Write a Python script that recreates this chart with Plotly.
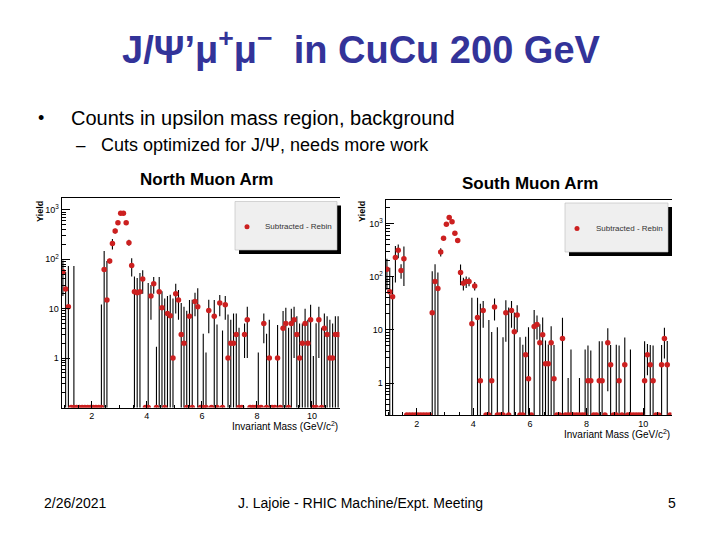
import plotly.graph_objects as go

# ---------------- data ----------------
mass_bins = [0.95, 1.05, 1.15, 1.25, 1.35, 1.45, 1.55, 1.65, 1.75, 1.85,
             1.95, 2.05, 2.15, 2.25, 2.35, 2.45, 2.55, 2.65, 2.75, 2.85,
             2.95, 3.05, 3.15, 3.25, 3.35, 3.45, 3.55, 3.65, 3.75, 3.85,
             3.95, 4.05, 4.15, 4.25, 4.35, 4.45, 4.55, 4.65, 4.75, 4.85,
             4.95, 5.05, 5.15, 5.25, 5.35, 5.45, 5.55, 5.65, 5.75, 5.85,
             5.95, 6.05, 6.15, 6.25, 6.35, 6.45, 6.55, 6.65, 6.75, 6.85,
             6.95, 7.05, 7.15, 7.25, 7.35, 7.45, 7.55, 7.65, 7.75, 7.85,
             7.95, 8.05, 8.15, 8.25, 8.35, 8.45, 8.55, 8.65, 8.75, 8.85,
             8.95, 9.05, 9.15, 9.25, 9.35, 9.45, 9.55, 9.65, 9.75, 9.85,
             9.95, 10.05, 10.15, 10.25, 10.35, 10.45, 10.55, 10.65, 10.75, 10.85,
             10.95]

north_yield = [56, 25, 11, 0, 0, 0, 0, 0, 0, 0,
               0, 0, 0, 0, 0, 62, 15, 92, 208, 373,
               550, 855, 855, 550, 217, 75, 22, 21, 22, 40,
               0, 0, 18, 32, 0, 22, 10.4, 0, 8, 7.2,
               1, 20, 15, 3, 2, 0, 7, 0, 14, 11,
               0, 0, 0, 9.2, 0, 7, 0, 13, 0, 12,
               1, 2, 2, 3, 0, 0, 3, 6, 0, 0,
               0, 0, 0, 5, 0, 1, 0, 0, 1, 0,
               4, 5, 0, 5, 6, 3, 1, 2, 5, 2,
               6, 0, 0, 6, 0, 4, 3, 1, 1, 3,
               3]
north_err = [38, 30, 62, 0, 73, 0, 0, 0, 0, 0,
             0, 0, 0, 0, 12, 85, 77, 10, 50, 40,
             45, 60, 60, 45, 30, 30, 23, 21, 31, 20,
             0, 33, 12, 12, 1.6, 22, 12, 16, 10, 12,
             15, 12, 9, 10, 9, 9, 8, 15, 7, 15,
             0, 3, 1.2, 6, 0, 8, 4.7, 6, 3.5, 6,
             6.6, 4, 6, 5, 4, 0, 2, 5, 0, 0,
             0, 1.2, 0, 3, 3, 5, 0, 0, 3.7, 0,
             5, 5.5, 4, 5, 5, 4, 4, 3, 5, 4,
             6, 1, 5, 5, 4, 4, 4, 5, 4, 4,
             4]

south_yield = [137, 52, 42, 228, 312, 131, 217, 0, 0, 0,
               0, 0, 0, 0, 0, 0, 21, 81, 60, 290,
               525, 960, 1290, 1070, 650, 480, 119, 75, 81, 81,
               13, 67, 17, 1.1, 23, 0, 0, 1.1, 27, 0,
               0, 0, 21, 0, 23, 9.2, 19, 0, 0, 3.4,
               1.2, 0, 11.5, 12.6, 5.7, 8.1, 2.3, 2.3, 5.7, 1.2,
               0, 0, 6.9, 0, 0, 0, 0, 0, 0, 0,
               0, 1.1, 1.1, 0, 0, 1.1, 1.1, 0, 5.7, 2.2,
               0, 0, 1.1, 0, 2.2, 0, 0, 0, 0, 0,
               0, 1.1, 3.4, 2.2, 1.1, 0, 0, 2.2, 6.9, 2.2,
               0]
south_err = [80, 95, 60, 150, 90, 40, 150, 0, 0, 0,
             0, 0, 0, 0, 0, 0, 105, 90, 60, 50,
             50, 60, 70, 60, 50, 40, 50, 20, 20, 15,
             27, 12, 23, 30, 12, 0, 15, 8, 12, 11,
             0, 7, 15, 26, 12, 12, 10, 7, 5, 4,
             10, 0, 12, 6, 7, 9, 4, 3, 6, 4,
             0, 0, 10, 0, 1, 4, 0, 0, 1, 0,
             4, 4, 3, 0, 0, 5, 5, 0, 5, 3,
             0, 5, 4, 0, 5, 0, 4, 0, 0, 0,
             0, 5, 2, 3, 4, 0, 0, 3, 4, 4,
             0]

x_ticks = [2, 4, 6, 8, 10]
y_ticks = [1, 10, 100, 1000]
y_ticktext = ["1", "10", "10<sup>2</sup>", "10<sup>3</sup>"]
legend_label = "Subtracted - Rebin"

# ---------------- style / layout helpers ----------------
W, H = 720, 540
FONT = "Liberation Sans, Arial, sans-serif"
RED = "#cc2020"
BLUE = "#333399"


def px(x):
    return x / W


def py(y):
    return 1 - y / H


N_LOGMIN, N_LOGMAX = -1.0, 3.25
S_LOGMIN, S_LOGMAX = -0.6, 3.44


def at_floor(vals, floor):
    # ROOT draws empty bins on the bottom edge of a log axis
    return [v if v > 0 else floor for v in vals]


minor_vals = [m * 10 ** e for e in (-1, 0, 1, 2, 3) for m in range(2, 10)]

fig = go.Figure()

fig.add_trace(go.Scatter(
    x=mass_bins, y=at_floor(north_yield, 10 ** N_LOGMIN),
    mode="markers", marker=dict(color=RED, size=5.5, line=dict(width=0)),
    error_y=dict(type="data", array=north_err, color="black", thickness=1.1, width=0),
    xaxis="x", yaxis="y", showlegend=False, cliponaxis=True))

fig.add_trace(go.Scatter(
    x=mass_bins, y=at_floor(south_yield, 10 ** S_LOGMIN),
    mode="markers", marker=dict(color=RED, size=5.5, line=dict(width=0)),
    error_y=dict(type="data", array=south_err, color="black", thickness=1.1, width=0),
    xaxis="x2", yaxis="y2", showlegend=False, cliponaxis=True))


def xaxis_cfg(dom):
    return dict(domain=dom, range=[0.9, 11.0], showline=True, linecolor="black",
                linewidth=1, mirror=True, ticks="inside", ticklen=7, tickcolor="black",
                tickvals=x_ticks, showgrid=False, zeroline=False,
                minor=dict(ticks="inside", ticklen=3, dtick=0.5, tickcolor="black"),
                tickfont=dict(family=FONT, size=9, color="black"))


def yaxis_cfg(dom, rng, anchor):
    return dict(domain=dom, type="log", range=rng, showline=True, linecolor="black",
                linewidth=1, mirror=False, ticks="inside", ticklen=8, tickcolor="black",
                tickmode="array", tickvals=y_ticks, ticktext=y_ticktext,
                showgrid=False, zeroline=False, anchor=anchor,
                minor=dict(ticks="inside", ticklen=4, tickmode="array",
                           tickvals=minor_vals, tickcolor="black"),
                tickfont=dict(family=FONT, size=9, color="black"))


fig.update_layout(
    width=W, height=H, paper_bgcolor="white", plot_bgcolor="white",
    margin=dict(l=0, r=0, t=0, b=0), showlegend=False,
    xaxis=xaxis_cfg([px(61.5), px(339.5)]) | dict(anchor="y"),
    yaxis=yaxis_cfg([py(407.5), py(197.5)], [N_LOGMIN, N_LOGMAX], "x"),
    xaxis2=xaxis_cfg([px(385.5), px(671.5)]) | dict(anchor="y2"),
    yaxis2=yaxis_cfg([py(415), py(200)], [S_LOGMIN, S_LOGMAX], "x2"),
)

shapes = []
annotations = []

# legend boxes (ROOT TLegend with shadow)
for (x0, y0, x1, y1) in [(235, 201.5, 337, 250), (565, 203, 668, 252)]:
    shapes.append(dict(type="rect", xref="paper", yref="paper",
                       x0=px(x0 + 4), x1=px(x1 + 4), y0=py(y1 + 4), y1=py(y0 + 4),
                       fillcolor="black", line=dict(width=0)))
    shapes.append(dict(type="rect", xref="paper", yref="paper",
                       x0=px(x0), x1=px(x1), y0=py(y1), y1=py(y0),
                       fillcolor="#efefef", line=dict(color="#bbbbbb", width=0.6)))
    cx, cy = x0 + 12, (y0 + y1) / 2 + 1
    shapes.append(dict(type="circle", xref="paper", yref="paper",
                       x0=px(cx - 2.5), x1=px(cx + 2.5), y0=py(cy + 2.5), y1=py(cy - 2.5),
                       fillcolor=RED, line=dict(width=0)))
    annotations.append(dict(x=px(x1 - 3), y=py(cy), xref="paper", yref="paper",
                            text=legend_label, showarrow=False, xanchor="right",
                            yanchor="middle", font=dict(family=FONT, size=8, color="#333333")))


def text(x, y, s, size, color="black", xanchor="center", bold=False, angle=0):
    if bold:
        s = "<b>" + s + "</b>"
    annotations.append(dict(x=px(x), y=py(y), xref="paper", yref="paper", text=s,
                            showarrow=False, xanchor=xanchor, yanchor="middle",
                            textangle=angle, font=dict(family=FONT, size=size, color=color)))


# slide text
text(361, 47, "J/Ψ’μ<sup>+</sup>μ<sup>−</sup>  in CuCu 200 GeV", 38, BLUE, bold=True)
text(36, 118, "•", 18, xanchor="left")
text(69, 118, "Counts in upsilon mass region, background", 20, xanchor="left")
text(74, 145, "–", 17, xanchor="left")
text(99, 145, "Cuts optimized for J/Ψ, needs more work", 18, xanchor="left")

# panel titles
text(206, 180, "North Muon Arm", 17, bold=True)
text(530, 183, "South Muon Arm", 17, bold=True)

# axis titles
text(40, 212, "Yield", 9, bold=True, angle=-90)
text(362, 212, "Yield", 9, bold=True, angle=-90)
text(340, 426, "Invariant Mass (GeV/c<sup>2</sup>)", 10, xanchor="right")
text(672, 434, "Invariant Mass (GeV/c<sup>2</sup>)", 10, xanchor="right")

# footer
text(42, 503, "2/26/2021", 14, xanchor="left")
text(360, 503, "J. Lajoie - RHIC Machine/Expt. Meeting", 14)
text(672, 503, "5", 14)

fig.update_layout(shapes=shapes, annotations=annotations)
fig.write_html("out.html", config={"displayModeBar": False},
               post_script="document.body.style.margin='0';document.body.style.overflow='hidden';")
